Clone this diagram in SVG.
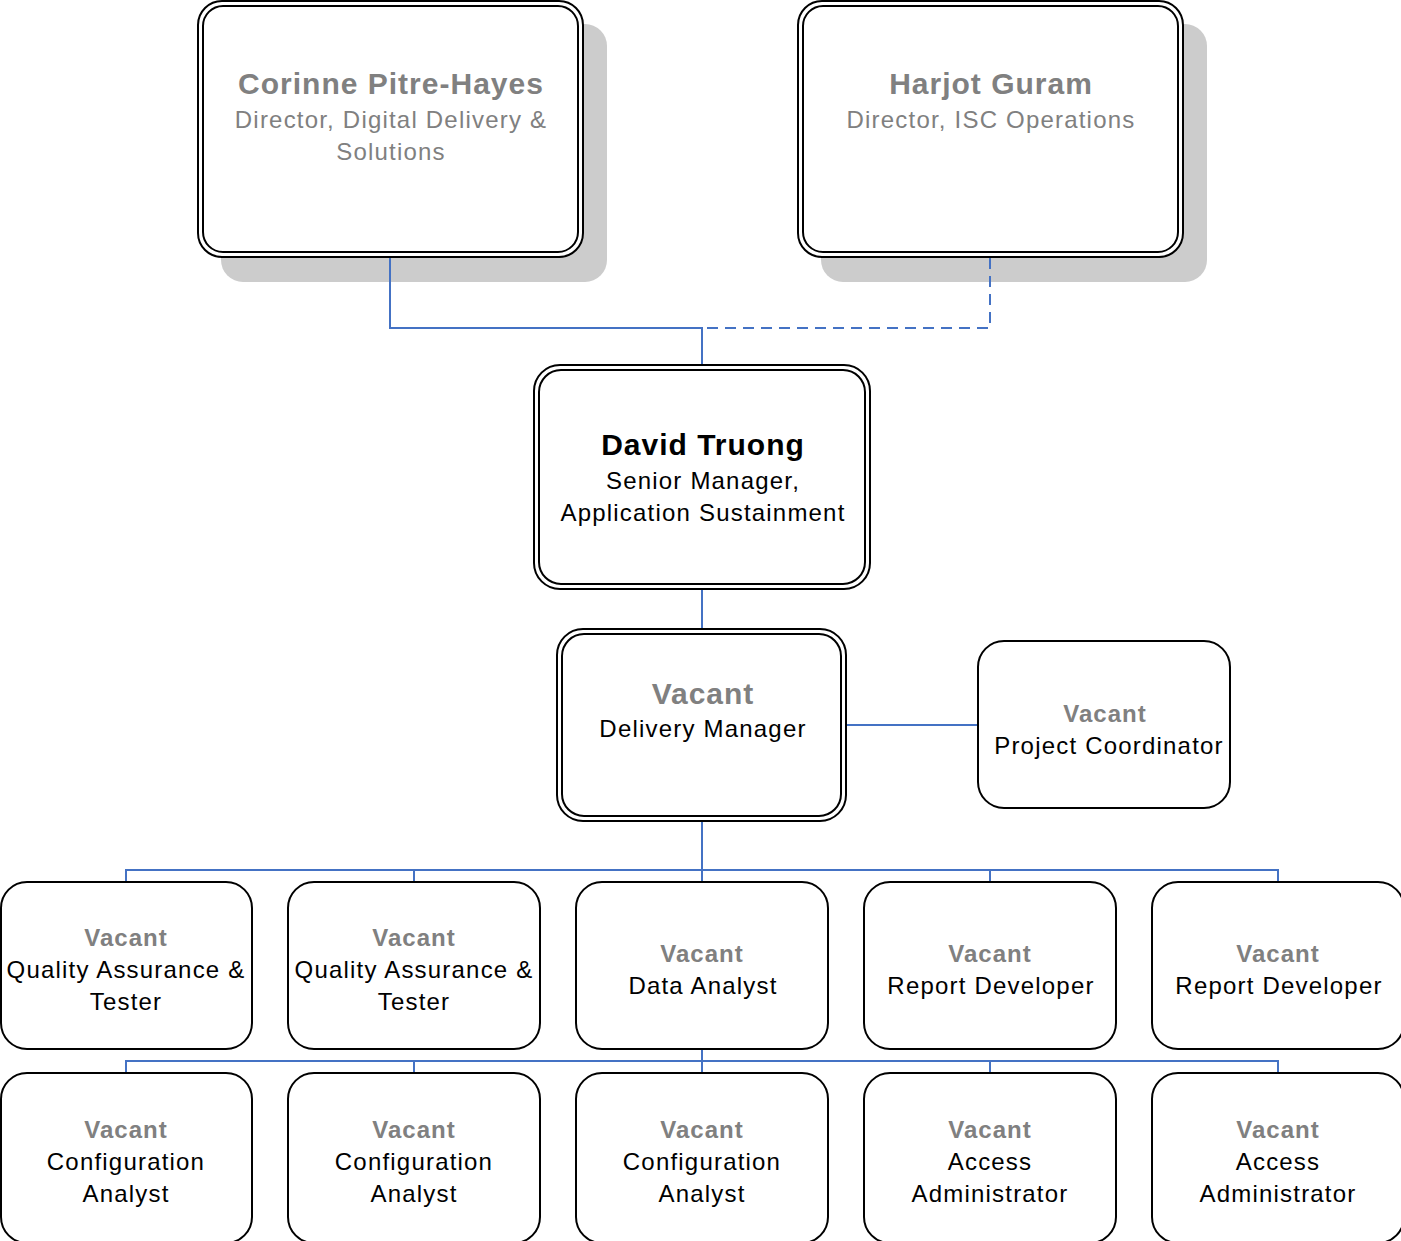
<svg xmlns="http://www.w3.org/2000/svg" width="1401" height="1241" viewBox="0 0 1401 1241">
<style>
.bg{fill:#ffffff}
.sh{fill:#cccccc}
.box{fill:#ffffff;stroke:#000000;stroke-width:2}
.inner{fill:none;stroke:#000000;stroke-width:2}
.con{fill:none;stroke:#4472C4;stroke-width:2}
.dash{stroke-dasharray:11 7}
text{font-family:"Liberation Sans",Arial,sans-serif;text-anchor:middle}
.nm{font-size:30px;font-weight:bold;letter-spacing:1px}
.vs{font-size:24px;font-weight:bold;letter-spacing:1px;fill:#808080}
.g{fill:#808080}
.k{fill:#000000}
.t{font-size:24px;letter-spacing:1.2px}
</style>
<rect class="bg" x="0" y="0" width="1401" height="1241"/>
<g id="n-corinne">
<rect class="sh" x="221" y="24" width="386" height="258" rx="22"/>
<rect class="box" x="198" y="1" width="385" height="256" rx="24"/>
<rect class="inner" x="203" y="6" width="375" height="246" rx="20"/>
<text class="nm g" x="391" y="94">Corinne Pitre-Hayes</text>
<text class="t g" x="391" y="128">Director, Digital Delivery &amp;</text>
<text class="t g" x="391" y="160">Solutions</text>
</g>
<g id="n-harjot">
<rect class="sh" x="821" y="24" width="386" height="258" rx="22"/>
<rect class="box" x="798" y="1" width="385" height="256" rx="24"/>
<rect class="inner" x="803" y="6" width="375" height="246" rx="20"/>
<text class="nm g" x="991" y="94">Harjot Guram</text>
<text class="t g" x="991" y="128">Director, ISC Operations</text>
</g>
<g id="n-david">
<rect class="box" x="534" y="365" width="336" height="224" rx="26"/>
<rect class="inner" x="539" y="370" width="326" height="214" rx="22"/>
<text class="nm k" x="703" y="455">David Truong</text>
<text class="t k" x="703" y="489">Senior Manager,</text>
<text class="t k" x="703" y="521">Application Sustainment</text>
</g>
<g id="n-delivery">
<rect class="box" x="557" y="629" width="289" height="192" rx="26"/>
<rect class="inner" x="562" y="634" width="279" height="182" rx="22"/>
<text class="nm g" x="703" y="704">Vacant</text>
<text class="t k" x="703" y="737">Delivery Manager</text>
</g>
<g id="n-coord">
<rect class="box" x="978" y="641" width="252" height="167" rx="26"/>
<text class="vs" x="1105" y="722">Vacant</text>
<text class="t k" x="1109" y="754">Project Coordinator</text>
</g>
<g id="n-qa1">
<rect class="box" x="1" y="882" width="251" height="167" rx="26"/>
<text class="vs" x="126" y="946">Vacant</text>
<text class="t k" x="126" y="978">Quality Assurance &amp;</text>
<text class="t k" x="126" y="1010">Tester</text>
</g>
<g id="n-qa2">
<rect class="box" x="288" y="882" width="252" height="167" rx="26"/>
<text class="vs" x="414" y="946">Vacant</text>
<text class="t k" x="414" y="978">Quality Assurance &amp;</text>
<text class="t k" x="414" y="1010">Tester</text>
</g>
<g id="n-data">
<rect class="box" x="576" y="882" width="252" height="167" rx="26"/>
<text class="vs" x="702" y="962">Vacant</text>
<text class="t k" x="703" y="994">Data Analyst</text>
</g>
<g id="n-report1">
<rect class="box" x="864" y="882" width="252" height="167" rx="26"/>
<text class="vs" x="990" y="962">Vacant</text>
<text class="t k" x="991" y="994">Report Developer</text>
</g>
<g id="n-report2">
<rect class="box" x="1152" y="882" width="252" height="167" rx="26"/>
<text class="vs" x="1278" y="962">Vacant</text>
<text class="t k" x="1279" y="994">Report Developer</text>
</g>
<g id="n-config1">
<rect class="box" x="1" y="1073" width="251" height="170" rx="26"/>
<text class="vs" x="126" y="1138">Vacant</text>
<text class="t k" x="126" y="1170">Configuration</text>
<text class="t k" x="126" y="1202">Analyst</text>
</g>
<g id="n-config2">
<rect class="box" x="288" y="1073" width="252" height="170" rx="26"/>
<text class="vs" x="414" y="1138">Vacant</text>
<text class="t k" x="414" y="1170">Configuration</text>
<text class="t k" x="414" y="1202">Analyst</text>
</g>
<g id="n-config3">
<rect class="box" x="576" y="1073" width="252" height="170" rx="26"/>
<text class="vs" x="702" y="1138">Vacant</text>
<text class="t k" x="702" y="1170">Configuration</text>
<text class="t k" x="702" y="1202">Analyst</text>
</g>
<g id="n-access1">
<rect class="box" x="864" y="1073" width="252" height="170" rx="26"/>
<text class="vs" x="990" y="1138">Vacant</text>
<text class="t k" x="990" y="1170">Access</text>
<text class="t k" x="990" y="1202">Administrator</text>
</g>
<g id="n-access2">
<rect class="box" x="1152" y="1073" width="252" height="170" rx="26"/>
<text class="vs" x="1278" y="1138">Vacant</text>
<text class="t k" x="1278" y="1170">Access</text>
<text class="t k" x="1278" y="1202">Administrator</text>
</g>
<g id="connectors">
<polyline class="con" points="390,258 390,328 702,328 702,364"/>
<polyline class="con dash" points="990,258 990,328 702,328"/>
<line class="con" x1="702" y1="590" x2="702" y2="628"/>
<line class="con" x1="847" y1="725" x2="977" y2="725"/>
<line class="con" x1="702" y1="822" x2="702" y2="881"/>
<polyline class="con" points="126,881 126,870 1278,870 1278,881"/>
<line class="con" x1="414" y1="870" x2="414" y2="881"/>
<line class="con" x1="990" y1="870" x2="990" y2="881"/>
<line class="con" x1="702" y1="1050" x2="702" y2="1072"/>
<polyline class="con" points="126,1072 126,1061 1278,1061 1278,1072"/>
<line class="con" x1="414" y1="1061" x2="414" y2="1072"/>
<line class="con" x1="990" y1="1061" x2="990" y2="1072"/>
</g>
</svg>
